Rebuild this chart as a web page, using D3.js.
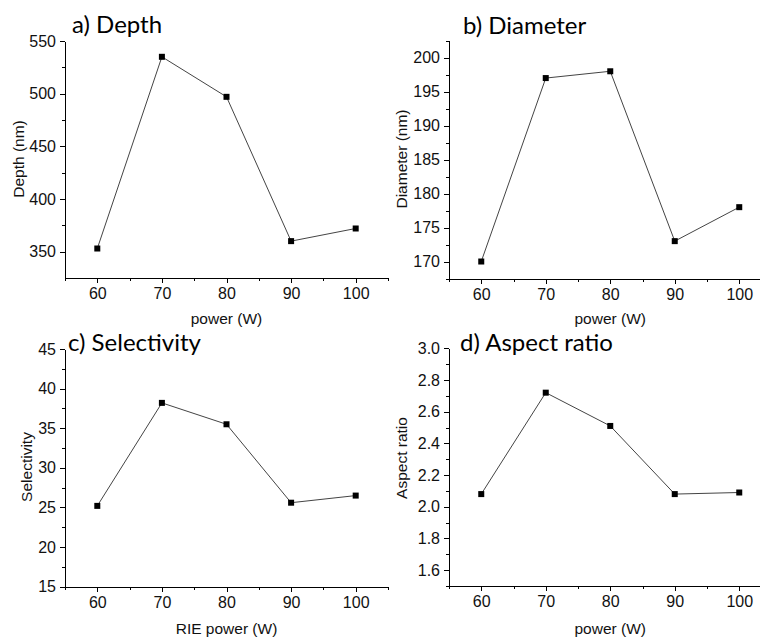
<!DOCTYPE html>
<html>
<head>
<meta charset="utf-8">
<script src="https://cdn.jsdelivr.net/npm/d3@7.9.0/dist/d3.min.js"></script>
<style>
  body { margin: 0; background: #fff; }
  svg { display: block; }
  .tick text { font-family: "Liberation Sans", Arial, sans-serif; font-size: 16px; fill: #111; }
  .axis path, .axis line { stroke: #000; stroke-width: 1; shape-rendering: crispEdges; }
  .label { font-family: "Liberation Sans", Arial, sans-serif; font-size: 15.5px; fill: #111; }
  .title { font-family: Lato, "Open Sans", sans-serif; font-size: 24px; fill: #000; }
</style>
</head>
<body>
<svg width="760" height="637"></svg>
<script>
// data
const power = [60, 70, 80, 90, 100];
const depth = [353, 535, 497, 360, 372];
const diameter = [170, 197, 198, 173, 178];
const selectivity = [25.2, 38.2, 35.5, 25.6, 26.5];
const aspectRatio = [2.08, 2.72, 2.51, 2.08, 2.09];

const xTicks = [60, 70, 80, 90, 100];
const xMinor = [55, 65, 75, 85, 95, 105];
const depthTicks = [350, 400, 450, 500, 550];
const depthMinor = [375, 425, 475, 525];
const diameterTicks = [170, 175, 180, 185, 190, 195, 200];
const diameterMinor = [167.5, 172.5, 177.5, 182.5, 187.5, 192.5, 197.5, 202.5];
const selectivityTicks = [15, 20, 25, 30, 35, 40, 45];
const selectivityMinor = [17.5, 22.5, 27.5, 32.5, 37.5, 42.5];
const aspectTicks = [1.6, 1.8, 2.0, 2.2, 2.4, 2.6, 2.8, 3.0];
const aspectMinor = [1.5, 1.7, 1.9, 2.1, 2.3, 2.5, 2.7, 2.9];

const svg = d3.select('svg');

const panels = [
  { title: 'a) Depth', values: depth, yDomain: [325, 550], yTicks: depthTicks, yMinor: depthMinor,
    fmt: d3.format('d'), yLabel: 'Depth (nm)', xLabel: 'power (W)',
    x0: 65, x1: 388, y0: 278, y1: 41, titleX: 72, titleY: 33, yLabX: 24, yLabY: 159, xLabY: 324 },
  { title: 'b) Diameter', values: diameter, yDomain: [167.5, 202.5], yTicks: diameterTicks, yMinor: diameterMinor,
    fmt: d3.format('d'), yLabel: 'Diameter (nm)', xLabel: 'power (W)',
    x0: 449, x1: 771.5, y0: 278.5, y1: 40.7, titleX: 463, titleY: 34, yLabX: 407, yLabY: 159, xLabY: 324 },
  { title: 'c) Selectivity', values: selectivity, yDomain: [15, 45], yTicks: selectivityTicks, yMinor: selectivityMinor,
    fmt: d3.format('d'), yLabel: 'Selectivity', xLabel: 'RIE power (W)',
    x0: 65, x1: 388, y0: 586.7, y1: 349, titleX: 68, titleY: 351, yLabX: 32, yLabY: 467, xLabY: 634 },
  { title: 'd) Aspect ratio', values: aspectRatio, yDomain: [1.5, 3.0], yTicks: aspectTicks, yMinor: aspectMinor,
    fmt: d3.format('.1f'), yLabel: 'Aspect ratio', xLabel: 'power (W)',
    x0: 449, x1: 771.5, y0: 586, y1: 348.3, titleX: 460, titleY: 351, yLabX: 407, yLabY: 458, xLabY: 634 }
];

panels.forEach(p => {
  const x = d3.scaleLinear().domain([55, 105]).range([p.x0, p.x1]);
  const y = d3.scaleLinear().domain(p.yDomain).range([p.y0, p.y1]);
  const g = svg.append('g');

  // x axis (major + minor ticks)
  g.append('g').attr('class', 'axis').attr('transform', `translate(0,${p.y0})`)
    .call(d3.axisBottom(x).tickValues(xMinor).tickSize(3).tickSizeOuter(0).tickFormat(''));
  g.append('g').attr('class', 'axis').attr('transform', `translate(0,${p.y0})`)
    .call(d3.axisBottom(x).tickValues(xTicks).tickSize(5).tickSizeOuter(0).tickPadding(5))
    .call(a => a.select('.domain').remove());

  // y axis
  g.append('g').attr('class', 'axis').attr('transform', `translate(${p.x0},0)`)
    .call(d3.axisLeft(y).tickValues(p.yMinor).tickSize(3).tickSizeOuter(0).tickFormat(''));
  g.append('g').attr('class', 'axis').attr('transform', `translate(${p.x0},0)`)
    .call(d3.axisLeft(y).tickValues(p.yTicks).tickSize(5).tickSizeOuter(0).tickPadding(4).tickFormat(p.fmt))
    .call(a => a.select('.domain').remove());

  const line = d3.line().x((d, i) => x(power[i])).y(d => y(d));
  g.append('path').datum(p.values)
    .attr('d', line).attr('fill', 'none').attr('stroke', '#444').attr('stroke-width', 1);

  g.selectAll('rect.pt').data(p.values).join('rect').attr('class', 'pt')
    .attr('x', (d, i) => x(power[i]) - 3).attr('y', d => y(d) - 3)
    .attr('width', 6).attr('height', 6).attr('fill', '#000');

  g.append('text').attr('class', 'title').attr('x', p.titleX).attr('y', p.titleY).text(p.title);

  g.append('text').attr('class', 'label')
    .attr('transform', `translate(${p.yLabX},${p.yLabY}) rotate(-90)`)
    .attr('text-anchor', 'middle').text(p.yLabel);

  g.append('text').attr('class', 'label')
    .attr('x', x(80)).attr('y', p.xLabY).attr('text-anchor', 'middle').text(p.xLabel);
});
</script>
</body>
</html>
